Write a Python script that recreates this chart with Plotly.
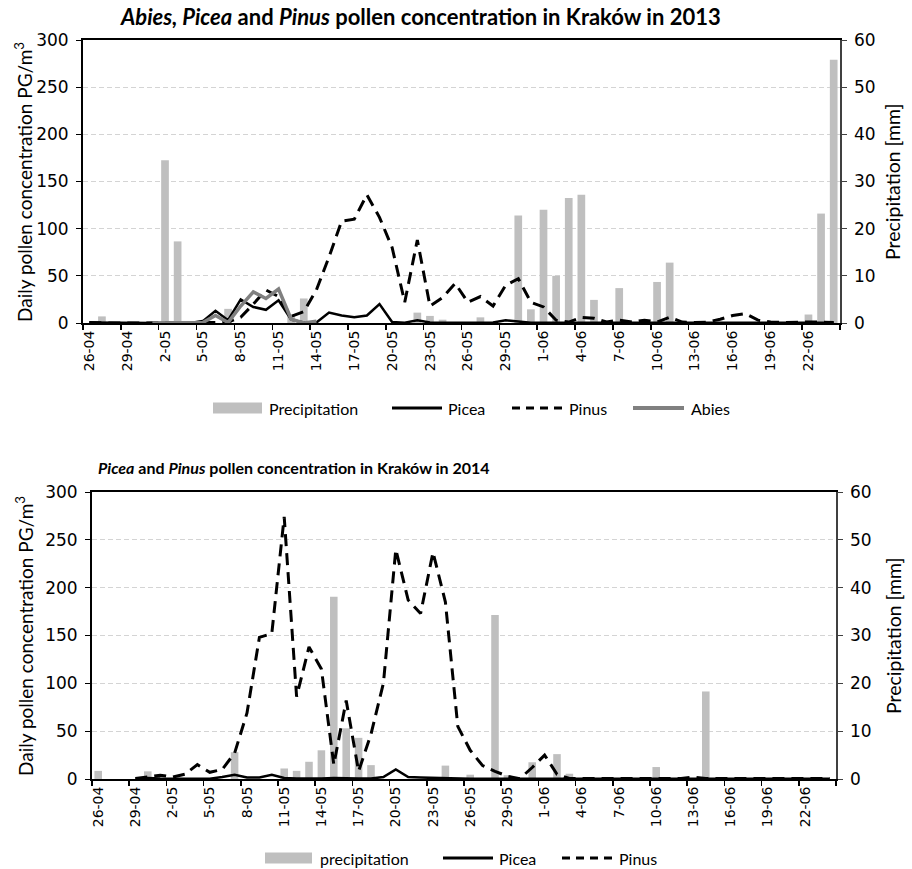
import pandas as pd
import plotly.graph_objects as go

# ---------------- data ----------------
dates = pd.date_range("2013-04-26", periods=60, freq="D")
days = [f"{d.day}-{d.month:02d}" for d in dates]

precip_2013 = [0, 1.4, 0, 0, 0, 0, 34.5, 17.3, 0, 0,
               0, 3.0, 0, 0, 0, 0, 1.8, 5.2, 0, 0,
               0, 0, 0, 0, 0, 0, 2.2, 1.5, 0.7, 0,
               0, 1.2, 0, 0, 22.8, 2.9, 24.0, 10.0, 26.5, 27.2,
               4.9, 0, 7.4, 0, 0, 8.7, 12.8, 0, 0, 0,
               0, 0, 0, 0, 0, 0, 0, 1.8, 23.2, 55.8]

picea_2013 = [0.5, 0.3, 0, 0, 0, 0, 0, 0, 0, 2,
              13, 3, 25, 17, 14, 24, 3.5, 0.5, 0.5, 11,
              8, 6, 8, 20, 1, 0.3, 3, 0.5, 0.3, 0.3,
              0.3, 0.3, 0.5, 3, 1.5, 0.3, 0.3, 0.3, 0.3, 0.3,
              0.3, 0.3, 0.3, 0.3, 0.3, 0.8, 0.5, 0.3, 0.3, 0.3,
              0.3, 0.3, 0.3, 0.3, 0.3, 0.3, 0.3, 0.3, 0.3, 0.3]

pinus_2013 = [0.5, 0, 0, 0, 0, 0, 0, 0, 0, 0,
              0.5, 1, 6, 20, 35, 28, 7, 12, 35, 70,
              108, 110, 136, 112, 80, 22, 88, 18, 27, 42,
              22, 28, 18, 40, 47, 22, 17, 3, 1, 6,
              5, 1, 3, 1, 3, 1, 6, 1, 0.5, 1,
              4, 8, 10, 3, 1, 0.5, 1, 1, 1, 0.5]

abies_2013 = [None, None, None, None, None, 0, 0, 0, 0, 0.5,
              8, 0.5, 18, 33, 26, 36, 4, 0, 2, None,
              None, None, None, None, None, None, None, None, None, None,
              None, None, None, None, None, None, None, None, None, None,
              None, None, None, None, None, None, None, None, None, None,
              None, None, None, None, None, None, None, None, None, None]

precip_2014 = [1.7, 0, 0, 0, 1.6, 0, 0, 0, 0, 0,
               0, 5.6, 0, 0, 0, 2.2, 1.7, 3.6, 6.0, 38.1,
               10.6, 8.6, 2.9, 0, 0, 0, 0, 0, 2.8, 0,
               0.9, 0, 34.3, 0.8, 0, 3.5, 0, 5.2, 1.1, 0,
               0, 0, 0, 0, 0, 2.5, 0, 0, 0, 18.3,
               0, 0, 0, 0, 0, 0, 0, 0, 0, 0]

picea_2014 = [None, None, None, 0.5, 1, 0.5, 0.5, 0.3, 0.3, 0.3,
              2, 4.5, 1.5, 1.5, 4.5, 1, 0.5, 0.3, 0.5, 1,
              0.5, 0.5, 0.5, 2, 10, 2, 1.5, 1, 0.5, 0.3,
              0.3, 0.3, 0.3, 0.3, 0.3, 0.3, 0.3, 0.3, 0.3, 0.3,
              0.3, 0.3, 0.3, 0.3, 0.3, 0.5, 0.3, 0.3, 0.5, 0.3,
              0.3, 0.3, 0.3, 0.3, 0.3, 0.3, 0.3, 0.3, 0.3, 0.3]

pinus_2014 = [None, None, None, 0.5, 2, 4, 2, 5, 15, 7,
              10, 27, 69, 148, 152, 274, 86, 138, 115, 15,
              82, 8, 47, 100, 240, 187, 173, 237, 185, 55,
              30, 14, 8, 3, 0.3, 12, 25, 5, 0.5, 0.5,
              0.5, 0.5, 0.5, 0.5, 0.5, 1, 0.5, 0.5, 2, 0.5,
              0.5, 0.5, 0.5, 0.5, 0.5, 0.5, 0.5, 0.5, 0.5, 0.5]

# ---------------- styling ----------------
W, H = 912, 869
BAR = "#bfbfbf"
ABIES = "#808080"
DASH = "12px,7px"
TXT = "Lato"
TICK = "DejaVu Sans"

def px(x):
    return x / W

def py(y):
    return 1 - y / H

fig = go.Figure()

# top chart
fig.add_trace(go.Bar(x=days, y=precip_2013, xaxis="x", yaxis="y",
                     marker=dict(color=BAR, line=dict(width=0)), name="Precipitation"))
fig.add_trace(go.Scatter(x=days, y=picea_2013, xaxis="x", yaxis="y2", mode="lines",
                         line=dict(color="black", width=2.5), name="Picea"))
fig.add_trace(go.Scatter(x=days, y=pinus_2013, xaxis="x", yaxis="y2", mode="lines",
                         line=dict(color="black", width=3, dash=DASH), name="Pinus"))
fig.add_trace(go.Scatter(x=days, y=abies_2013, xaxis="x", yaxis="y2", mode="lines",
                         line=dict(color=ABIES, width=3.5), name="Abies"))

# bottom chart
fig.add_trace(go.Bar(x=days, y=precip_2014, xaxis="x2", yaxis="y3",
                     marker=dict(color=BAR, line=dict(width=0)), name="precipitation"))
fig.add_trace(go.Scatter(x=days, y=picea_2014, xaxis="x2", yaxis="y4", mode="lines",
                         line=dict(color="black", width=2.5), name="Picea"))
fig.add_trace(go.Scatter(x=days, y=pinus_2014, xaxis="x2", yaxis="y4", mode="lines",
                         line=dict(color="black", width=3, dash=DASH), name="Pinus"))

def xax(domain, anchor):
    return dict(domain=domain, anchor=anchor, type="category",
                categoryorder="array", categoryarray=days, range=[-0.5, 59.5],
                tickmode="linear", tick0=0, dtick=3, tickson="boundaries",
                ticks="outside", ticklen=5, tickcolor="black", tickwidth=1.5,
                tickangle=-90, tickfont=dict(family=TICK, size=14, color="black"),
                showline=True, linecolor="black", linewidth=2, mirror=True,
                showgrid=False, zeroline=False, fixedrange=True, automargin=False)

def yright(domain, anchor):
    return dict(domain=domain, anchor=anchor, side="right", range=[0, 60],
                tickmode="linear", tick0=0, dtick=10, ticks="outside", ticklen=5,
                tickcolor="#404040", ticklabelstandoff=4,
                tickfont=dict(family=TICK, size=17, color="black"),
                showline=True, linecolor="#404040", linewidth=1.5,
                showgrid=False, zeroline=False, automargin=False, fixedrange=True)

def yleft(over, anchor):
    return dict(overlaying=over, anchor=anchor, side="left", range=[0, 300],
                tickmode="linear", tick0=0, dtick=50, ticks="outside", ticklen=5,
                tickcolor="black", ticklabelstandoff=4,
                tickfont=dict(family=TICK, size=17, color="black"),
                showline=True, linecolor="black", linewidth=2,
                showgrid=True, gridcolor="#d4d4d4", gridwidth=1, griddash="5px,3px",
                zeroline=False, automargin=False, fixedrange=True)

fig.update_layout(
    width=W, height=H, margin=dict(l=0, r=0, t=0, b=0, pad=0), autosize=False,
    paper_bgcolor="white", plot_bgcolor="white", showlegend=False,
    bargap=0.39,
    font=dict(family=TXT, color="black"),
    xaxis=xax([px(83), px(840)], "y"),
    yaxis=yright([py(323), py(40)], "x"),
    yaxis2=yleft("y", "x"),
    xaxis2=xax([px(92), px(836)], "y3"),
    yaxis3=yright([py(779), py(492)], "x2"),
    yaxis4=yleft("y3", "x2"),
)

ann = []
shapes = []

# titles
ann.append(dict(text="<b><i>Abies, Picea</i> and <i>Pinus</i> pollen concentration in Kraków in 2013</b>",
                x=px(420), y=py(17), xref="paper", yref="paper", xanchor="center", yanchor="middle",
                showarrow=False, font=dict(family=TXT, size=22, color="black")))
ann.append(dict(text="<b><i>Picea</i> and <i>Pinus</i> pollen concentration in Kraków in 2014</b>",
                x=px(96), y=py(468), xref="paper", yref="paper", xanchor="left", yanchor="middle",
                showarrow=False, font=dict(family=TXT, size=16, color="black")))

# axis titles
for yc in (182, 636):
    ann.append(dict(text="Daily pollen concentration PG/m<sup>3</sup>", textangle=-90,
                    x=px(24), y=py(yc), xref="paper", yref="paper",
                    xanchor="center", yanchor="middle", showarrow=False,
                    font=dict(family=TXT, size=19, color="black")))
    ann.append(dict(text="Precipitation [mm]", textangle=-90,
                    x=px(893), y=py(yc), xref="paper", yref="paper",
                    xanchor="center", yanchor="middle", showarrow=False,
                    font=dict(family=TXT, size=19.5, color="black")))

# legends (drawn manually to mimic wide symbols)
def legend_items(yc, items):
    for kind, x0, x1, label, tx in items:
        if kind == "box":
            shapes.append(dict(type="rect", xref="paper", yref="paper",
                               x0=px(x0), x1=px(x1), y0=py(yc + 5.5), y1=py(yc - 5.5),
                               fillcolor=BAR, line=dict(width=0)))
        else:
            col = ABIES if kind == "gray" else "black"
            wid = 4 if kind == "gray" else 3
            d = "8px,6px" if kind == "dash" else "solid"
            shapes.append(dict(type="line", xref="paper", yref="paper",
                               x0=px(x0), x1=px(x1), y0=py(yc), y1=py(yc),
                               line=dict(color=col, width=wid, dash=d)))
        ann.append(dict(text=label, x=px(tx), y=py(yc), xref="paper", yref="paper",
                        xanchor="left", yanchor="middle", showarrow=False,
                        font=dict(family=TXT, size=16, color="black")))

legend_items(408, [("box", 213, 262, "Precipitation", 267),
                   ("line", 392, 442, "Picea", 446),
                   ("dash", 512, 562, "Pinus", 567),
                   ("gray", 633, 684, "Abies", 689)])
legend_items(858, [("box", 265, 312, "precipitation", 318),
                   ("line", 443, 493, "Picea", 497),
                   ("dash", 562, 613, "Pinus", 617)])

fig.update_layout(annotations=ann, shapes=shapes)
fig.write_html("out.html", config={"displayModeBar": False, "staticPlot": True},
               post_script="document.body.style.margin='0';document.body.style.overflow='hidden';"
                           "document.documentElement.style.overflow='hidden';")
